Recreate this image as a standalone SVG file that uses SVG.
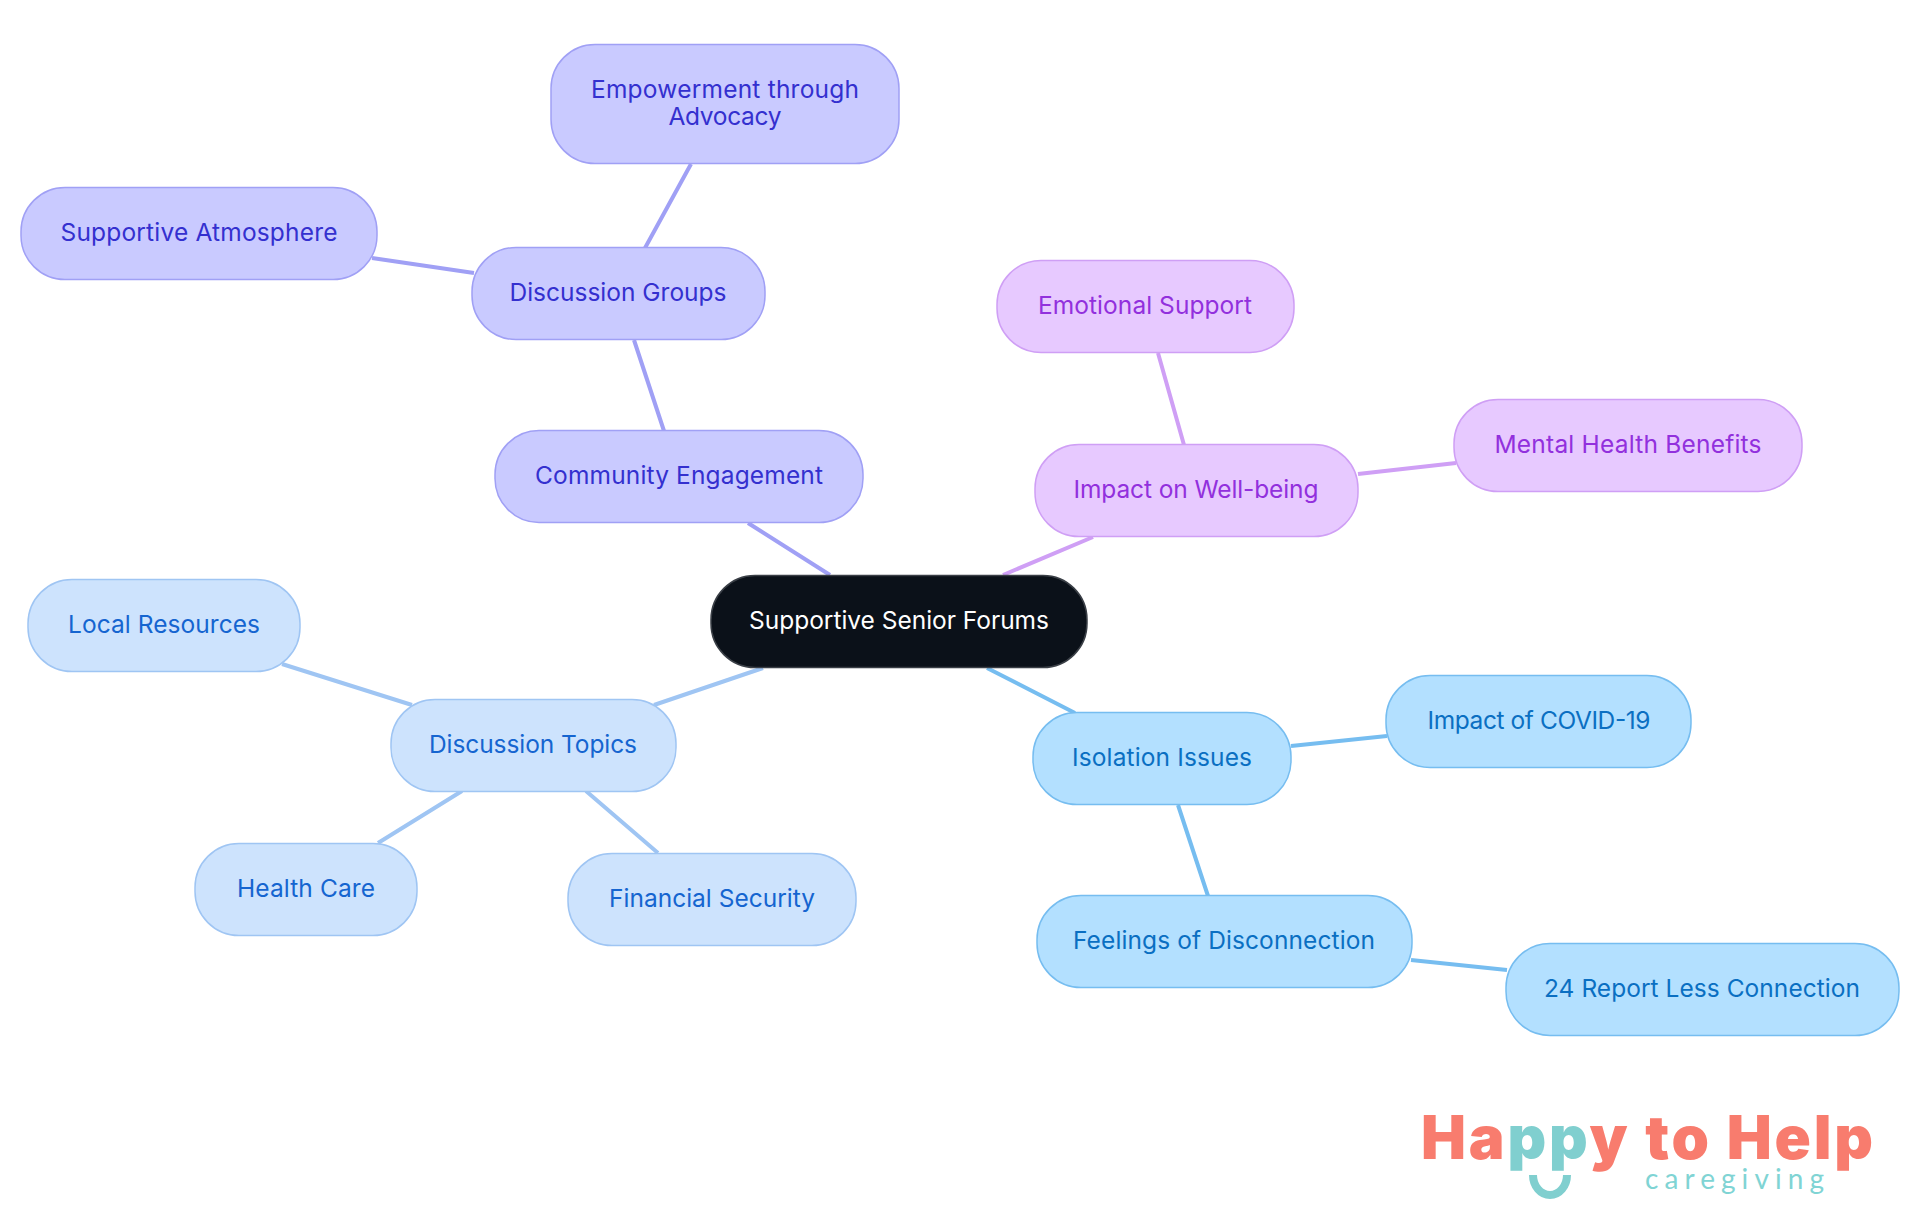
<svg xmlns="http://www.w3.org/2000/svg" width="1920" height="1215" viewBox="0 0 1920 1215">
<style>
text{font-family:"Inter","Noto Sans",sans-serif;font-size:24.5px;text-anchor:middle}
.n{stroke-width:1.5}
.e{fill:none;stroke-width:4}
.root rect{fill:#0b1119;stroke:#3a3f46}.root text{fill:#fff}
.ind rect{fill:#c9caff;stroke:#a0a0f5}.ind text{fill:#3430cf}.ind-e{stroke:#a0a0f5}
.pur rect{fill:#e7c9ff;stroke:#cf9ff5}.pur text{fill:#9230dd}.pur-e{stroke:#cf9ff5}
.sky rect{fill:#b3e0ff;stroke:#76bdf0}.sky text{fill:#0a6fc2}.sky-e{stroke:#76bdf0}
.blu rect{fill:#cde3fd;stroke:#9fc5f3}.blu text{fill:#1565d0}.blu-e{stroke:#9fc5f3}
.logo{text-anchor:start}
</style>
<g id="connectors">
<path class="e ind-e" d="M748 523L830 575M664 431L634 340M645 248L691 164M474 273L372 258"/>
<path class="e pur-e" d="M1093 537L1003 575M1184 445L1158 353M1358 474L1456 463"/>
<path class="e sky-e" d="M987 668L1075 713M1291 746L1387 736M1178 805L1208 896M1411 960L1507 970"/>
<path class="e blu-e" d="M763 668L654 705M412 705L282 664M462 791L378 843M586 791L658 853"/>
</g>
<g id="n-root" class="root"><rect class="n" x="711" y="575.5" width="376" height="92" rx="44"/><text x="899" y="629" textLength="300">Supportive Senior Forums</text></g>
<g id="n-community" class="ind"><rect class="n" x="495" y="430.5" width="368" height="92" rx="44"/><text x="679" y="484" textLength="288">Community Engagement</text></g>
<g id="n-groups" class="ind"><rect class="n" x="472" y="247.5" width="293" height="92" rx="44"/><text x="618" y="301" textLength="217">Discussion Groups</text></g>
<g id="n-empower" class="ind"><rect class="n" x="551" y="44.5" width="348" height="119" rx="44"/><text x="725" y="98" textLength="268">Empowerment through</text><text x="725" y="125" textLength="113">Advocacy</text></g>
<g id="n-atmos" class="ind"><rect class="n" x="21" y="187.5" width="356" height="92" rx="44"/><text x="199" y="241" textLength="277">Supportive Atmosphere</text></g>
<g id="n-impact" class="pur"><rect class="n" x="1035" y="444.5" width="323" height="92" rx="44"/><text x="1196" y="498" textLength="245">Impact on Well-being</text></g>
<g id="n-emotional" class="pur"><rect class="n" x="997" y="260.5" width="297" height="92" rx="44"/><text x="1145" y="314" textLength="214">Emotional Support</text></g>
<g id="n-mental" class="pur"><rect class="n" x="1454" y="399.5" width="348" height="92" rx="44"/><text x="1628" y="453" textLength="267">Mental Health Benefits</text></g>
<g id="n-isolation" class="sky"><rect class="n" x="1033" y="712.5" width="258" height="92" rx="44"/><text x="1162" y="766" textLength="180">Isolation Issues</text></g>
<g id="n-covid" class="sky"><rect class="n" x="1386" y="675.5" width="305" height="92" rx="44"/><text x="1539" y="729" textLength="223">Impact of COVID-19</text></g>
<g id="n-feelings" class="sky"><rect class="n" x="1037" y="895.5" width="375" height="92" rx="44"/><text x="1224" y="949" textLength="302">Feelings of Disconnection</text></g>
<g id="n-report" class="sky"><rect class="n" x="1506" y="943.5" width="393" height="92" rx="44"/><text x="1702" y="997" textLength="316">24 Report Less Connection</text></g>
<g id="n-topics" class="blu"><rect class="n" x="391" y="699.5" width="285" height="92" rx="44"/><text x="533" y="753" textLength="208">Discussion Topics</text></g>
<g id="n-local" class="blu"><rect class="n" x="28" y="579.5" width="272" height="92" rx="44"/><text x="164" y="632.5" textLength="192">Local Resources</text></g>
<g id="n-health" class="blu"><rect class="n" x="195" y="843.5" width="222" height="92" rx="44"/><text x="306" y="897" textLength="138">Health Care</text></g>
<g id="n-financial" class="blu"><rect class="n" x="568" y="853.5" width="288" height="92" rx="44"/><text x="712" y="907" textLength="206">Financial Security</text></g>
<g id="logo">
<text class="logo" x="1421" y="1159" textLength="452" style="font-size:60px;font-weight:900;fill:#f87c6e">Ha<tspan fill="#80cfcf">pp</tspan>y to Help</text>
<text class="logo" x="1645" y="1189" textLength="179" style="font-family:Lato,'Noto Sans',sans-serif;font-size:28px;font-weight:400;fill:#80d4d4">caregiving</text>
<path d="M1533 1175A17 20 0 0 0 1567 1175" fill="none" stroke="#80cfcf" stroke-width="8"/>
</g>
</svg>
